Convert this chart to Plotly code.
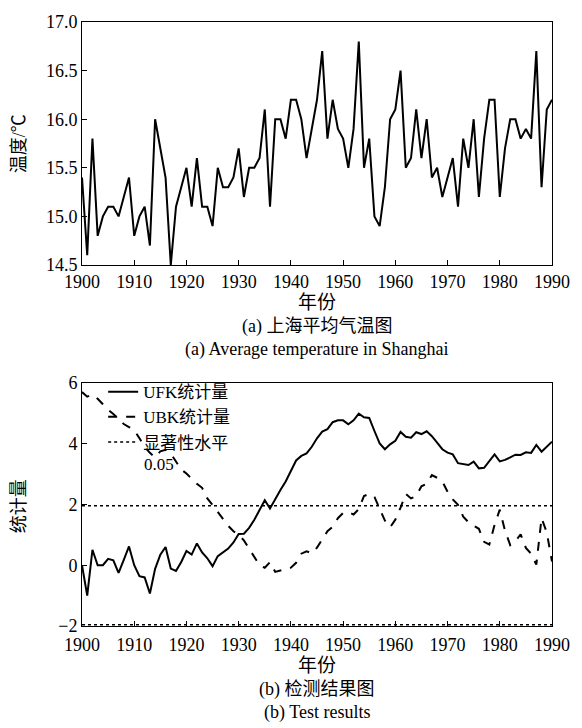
import plotly.graph_objects as go

years = list(range(1900, 1991))

temperature = [
    15.4, 14.6, 15.8, 14.8, 15.0, 15.1, 15.1, 15.0, 15.2, 15.4,
    14.8, 15.0, 15.1, 14.7, 16.0, 15.7, 15.4, 14.5, 15.1, 15.3,
    15.5, 15.1, 15.6, 15.1, 15.1, 14.9, 15.5, 15.3, 15.3, 15.4,
    15.7, 15.2, 15.5, 15.5, 15.6, 16.1, 15.1, 16.0, 16.0, 15.8,
    16.2, 16.2, 16.0, 15.6, 15.9, 16.2, 16.7, 15.8, 16.2, 15.9,
    15.8, 15.5, 15.9, 16.8, 15.5, 15.8, 15.0, 14.9, 15.3, 16.0,
    16.1, 16.5, 15.5, 15.6, 16.1, 15.6, 16.0, 15.4, 15.5, 15.2,
    15.4, 15.6, 15.1, 15.8, 15.5, 16.0, 15.2, 15.8, 16.2, 16.2,
    15.2, 15.7, 16.0, 16.0, 15.8, 15.9, 15.8, 16.7, 15.3, 16.1,
    16.2,
]

ufk = [
    0.0, -1.0, 0.51, 0.0, 0.0, 0.21, 0.16, -0.25, 0.18, 0.62,
    0.0, -0.36, -0.4, -0.93, -0.12, 0.35, 0.6, -0.11, -0.19, 0.11,
    0.47, 0.35, 0.72, 0.42, 0.23, -0.03, 0.3, 0.42, 0.55, 0.75,
    1.03, 1.04, 1.23, 1.5, 1.8, 2.14, 1.87, 2.2, 2.48, 2.76,
    3.12, 3.45, 3.6, 3.68, 3.9, 4.18, 4.4, 4.48, 4.71, 4.77,
    4.77, 4.64, 4.77, 4.99, 4.87, 4.85, 4.42, 4.01, 3.82, 3.98,
    4.1, 4.39, 4.23, 4.2, 4.38, 4.32, 4.41, 4.25, 4.04, 3.82,
    3.71, 3.65, 3.36, 3.34, 3.3, 3.41, 3.19, 3.21, 3.44, 3.65,
    3.42, 3.47, 3.55, 3.64, 3.63, 3.72, 3.7, 3.96, 3.74, 3.9,
    4.07,
]

ubk = [
    5.7, 5.55, 5.62, 5.48, 5.3, 5.12, 4.98, 4.82, 4.65, 4.55,
    4.45, 4.18, 3.9, 3.7, 3.55, 3.75, 3.8, 3.68, 3.42, 3.15,
    3.02, 2.85, 2.68, 2.55, 2.2, 1.98, 1.76, 1.55, 1.3, 1.12,
    1.0, 0.82, 0.55, 0.25, 0.0, -0.08, 0.1, -0.22, -0.17, -0.14,
    -0.08, 0.08, 0.38, 0.46, 0.39, 0.58, 0.87, 1.12, 1.27, 1.55,
    1.72, 1.76, 1.67, 1.85, 2.28, 2.35, 2.25, 1.85, 1.47, 1.25,
    1.5, 1.9, 2.35, 2.2, 2.28, 2.6, 2.68, 2.97, 2.88, 2.76,
    2.42, 2.17, 1.99, 1.6, 1.42, 1.3, 1.2, 0.77, 0.68, 1.33,
    1.83, 1.14, 0.66, 0.79, 1.02, 0.57, 0.38, 0.02, 1.55, 1.08,
    0.12,
]

sig_level = 1.96
sig_label = "0.05"
x_ticks = list(range(1900, 1991, 10))

FONT = "Liberation Serif, 'Noto Sans CJK SC', serif"

fig = go.Figure()

fig.add_trace(go.Scatter(x=years, y=temperature, mode="lines",
                         line=dict(color="black", width=2),
                         showlegend=False, xaxis="x", yaxis="y"))

fig.add_trace(go.Scatter(x=years, y=ufk, mode="lines", name="UFK统计量",
                         line=dict(color="black", width=2),
                         xaxis="x2", yaxis="y2"))
fig.add_trace(go.Scatter(x=years, y=ubk, mode="lines", name="UBK统计量",
                         line=dict(color="black", width=2, dash="dash"),
                         xaxis="x2", yaxis="y2"))
fig.add_trace(go.Scatter(x=[years[0], years[-1]], y=[sig_level, sig_level],
                         mode="lines", name="显著性水平",
                         line=dict(color="black", width=1.5, dash="dot"),
                         xaxis="x2", yaxis="y2"))
fig.add_trace(go.Scatter(x=[years[0], years[-1]], y=[-sig_level, -sig_level],
                         mode="lines", showlegend=False,
                         line=dict(color="black", width=1.5, dash="dot"),
                         xaxis="x2", yaxis="y2"))

axis_common = dict(showline=True, linecolor="black", linewidth=1, mirror=True,
                   ticks="inside", ticklen=5, tickcolor="black", showgrid=False,
                   zeroline=False, tickfont=dict(family=FONT, size=18, color="black"))

fig.update_layout(
    width=582, height=728,
    margin=dict(l=82, r=21, t=17, b=102),
    paper_bgcolor="white", plot_bgcolor="white",
    font=dict(family=FONT, size=18, color="black"),
    xaxis=dict(domain=[0, 1], range=[1900, 1990], tickvals=x_ticks, anchor="y", **axis_common),
    yaxis=dict(domain=[0.5977, 1], range=[14.5, 17.0], dtick=0.5, tickformat=".1f",
               anchor="x", **axis_common),
    xaxis2=dict(domain=[0, 1], range=[1900, 1990], tickvals=x_ticks, anchor="y2",
                ticklabelstandoff=2, **axis_common),
    yaxis2=dict(domain=[0, 0.4023], range=[-2, 6], dtick=2, anchor="x2", **axis_common),
    legend=dict(x=0.045, y=0.417, xanchor="left", yanchor="top",
                bgcolor="rgba(0,0,0,0)", font=dict(family=FONT, size=17, color="black"),
                tracegroupgap=0, itemwidth=30),
)

def py(p):
    return (626 - p) / 609

def px(p):
    return (p - 82) / 479

annots = [
    ("年份", 321, 300, 19, 0, "center"),
    ("(a) 上海平均气温图", 321, 324, 18, 0, "center"),
    ("(a) Average temperature in Shanghai", 321, 347, 18, 0, "center"),
    ("年份", 321, 666, 19, 0, "center"),
    ("(b) 检测结果图", 321, 690, 18, 0, "center"),
    ("(b) Test results", 321, 713, 18, 0, "center"),
    ("温度/℃", 18, 140, 18, -90, "center"),
    ("统计量", 18, 505, 18, -90, "center"),
    (sig_label, 143, 463, 17, 0, "left"),
]
for text, xx, yy, size, ang, xa in annots:
    fig.add_annotation(text=text, x=px(xx), y=py(yy), xref="paper", yref="paper",
                       showarrow=False, textangle=ang, xanchor=xa, yanchor="middle",
                       font=dict(family=FONT, size=size, color="black"))

fig.write_html("out.html")
